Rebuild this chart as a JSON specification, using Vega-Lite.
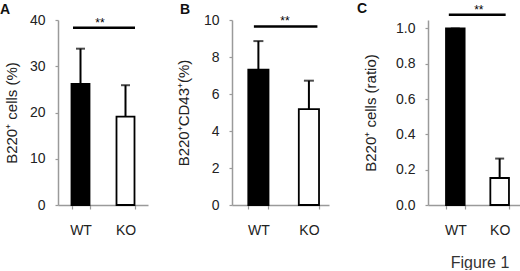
{
  "$schema": "https://vega.github.io/schema/vega-lite/v6.json",
  "padding": {"left": 0, "top": 1, "right": 0, "bottom": 0},
  "background": "white",
  "spacing": 28,
  "config": {
    "view": {"stroke": null},
    "font": "Liberation Sans",
    "axis": {
      "grid": false,
      "domainColor": "#9a9a9a",
      "domainWidth": 1.5,
      "tickColor": "#9a9a9a",
      "tickWidth": 1.2,
      "tickSize": 3,
      "labelFont": "Liberation Sans",
      "labelFontSize": 14,
      "labelColor": "#222222",
      "titleFont": "Liberation Sans",
      "titleFontSize": 15,
      "titleFontWeight": "normal",
      "titleColor": "#222222"
    },
    "axisY": {"labelPadding": 10, "titlePadding": 10},
    "axisX": {"labelPadding": 14, "labelAngle": 0, "tickBand": "extent", "tickSize": 4},
    "title": {"font": "Liberation Sans", "fontSize": 14, "fontWeight": "bold", "color": "#111111", "anchor": "start", "frame": "group", "baseline": "alphabetic"}
  },
  "hconcat": [
    {
      "width": 90,
      "height": 185,
      "title": {"text": "A", "dx": -58, "dy": 10, "offset": 6},
      "data": {"values": [
        {"group": "WT", "mean": 26.2, "upper": 33.8},
        {"group": "KO", "mean": 19.1, "upper": 25.9}
      ]},
      "encoding": {
        "x": {"field": "group", "type": "nominal", "title": null,
              "scale": {"domain": ["WT", "KO"], "paddingInner": 0.6, "paddingOuter": 0.3, "align": 0.5}},
        "y": {"type": "quantitative", "scale": {"domain": [0, 40], "nice": false},
              "axis": {"values": [0, 10, 20, 30, 40], "title": "B220⁺ cells (%)"}}
      },
      "layer": [
        {"mark": {"type": "bar", "stroke": "black", "strokeWidth": 1.8},
         "encoding": {"y": {"field": "mean"},
                      "fill": {"field": "group", "type": "nominal", "scale": {"domain": ["WT", "KO"], "range": ["black", "white"]}, "legend": null}}},
        {"mark": {"type": "rule", "color": "black", "strokeWidth": 2},
         "encoding": {"y": {"field": "mean"}, "y2": {"field": "upper"}}},
        {"mark": {"type": "tick", "color": "black", "thickness": 2, "size": 9, "orient": "horizontal"},
         "encoding": {"y": {"field": "upper"}}},
        {"data": {"values": [{"group": "WT", "to": "KO", "y": 38.3}]},
         "mark": {"type": "rule", "color": "black", "strokeWidth": 2.5, "xOffset": -7.5, "x2Offset": 9.5},
         "encoding": {"x2": {"field": "to"}, "y": {"field": "y"}}},
        {"data": {"values": [{"group": "WT", "y": 38.3, "label": "**"}]},
         "mark": {"type": "text", "color": "black", "fontSize": 12, "baseline": "alphabetic", "dy": -1, "xOffset": 19.5},
         "encoding": {"y": {"field": "y"}, "text": {"field": "label"}}}
      ]
    },
    {
      "width": 97,
      "height": 185,
      "title": {"text": "B", "dx": -52, "dy": 10, "offset": 6},
      "data": {"values": [
        {"group": "WT", "mean": 7.32, "upper": 8.86},
        {"group": "KO", "mean": 5.18, "upper": 6.72}
      ]},
      "encoding": {
        "x": {"field": "group", "type": "nominal", "title": null,
              "scale": {"domain": ["WT", "KO"], "paddingInner": 0.6, "paddingOuter": 0.26, "align": 0.62}},
        "y": {"type": "quantitative", "scale": {"domain": [0, 10], "nice": false},
              "axis": {"values": [0, 2, 4, 6, 8, 10], "title": "B220⁺CD43⁺(%)", "titlePadding": 12}}
      },
      "layer": [
        {"mark": {"type": "bar", "stroke": "black", "strokeWidth": 1.8},
         "encoding": {"y": {"field": "mean"},
                      "fill": {"field": "group", "type": "nominal", "scale": {"domain": ["WT", "KO"], "range": ["black", "white"]}, "legend": null}}},
        {"mark": {"type": "rule", "color": "black", "strokeWidth": 2},
         "encoding": {"y": {"field": "mean"}, "y2": {"field": "upper"}}},
        {"mark": {"type": "tick", "color": "black", "thickness": 2, "size": 10, "orient": "horizontal"},
         "encoding": {"y": {"field": "upper"}}},
        {"data": {"values": [{"group": "WT", "to": "KO", "y": 9.65}]},
         "mark": {"type": "rule", "color": "black", "strokeWidth": 2.5, "xOffset": -4.5, "x2Offset": 8.5},
         "encoding": {"x2": {"field": "to"}, "y": {"field": "y"}}},
        {"data": {"values": [{"group": "WT", "y": 9.65, "label": "**"}]},
         "mark": {"type": "text", "color": "black", "fontSize": 12, "baseline": "alphabetic", "dy": -1, "xOffset": 26.5},
         "encoding": {"y": {"field": "y"}, "text": {"field": "label"}}}
      ]
    },
    {
      "width": 94,
      "height": 185,
      "title": {"text": "C", "dx": -71, "dy": 18, "offset": 6},
      "data": {"values": [
        {"group": "WT", "mean": 1.0, "upper": 1.0},
        {"group": "KO", "mean": 0.153, "upper": 0.263}
      ]},
      "encoding": {
        "x": {"field": "group", "type": "nominal",
              "scale": {"domain": ["WT", "KO"], "paddingInner": 0.58, "paddingOuter": 0.35, "align": 0.58},
              "axis": {"title": "Figure 1", "titleX": 51.5, "titleY": 62, "titleBaseline": "alphabetic", "titleFontSize": 16, "titleColor": "#333333"}},
        "y": {"type": "quantitative", "scale": {"domain": [0, 1.048], "nice": false},
              "axis": {"values": [0, 0.2, 0.4, 0.6, 0.8, 1.0], "format": ".1f", "title": "B220⁺ cells (ratio)", "titlePadding": 17}}
      },
      "layer": [
        {"mark": {"type": "bar", "stroke": "black", "strokeWidth": 1.8},
         "encoding": {"y": {"field": "mean"},
                      "fill": {"field": "group", "type": "nominal", "scale": {"domain": ["WT", "KO"], "range": ["black", "white"]}, "legend": null}}},
        {"mark": {"type": "rule", "color": "black", "strokeWidth": 2},
         "encoding": {"y": {"field": "mean"}, "y2": {"field": "upper"}}},
        {"mark": {"type": "tick", "color": "black", "thickness": 2, "size": 9, "orient": "horizontal"},
         "encoding": {"y": {"field": "upper"}}},
        {"data": {"values": [{"group": "WT", "to": "KO", "y": 1.078}]},
         "mark": {"type": "rule", "color": "black", "strokeWidth": 2.5, "xOffset": -6.5, "x2Offset": 6},
         "encoding": {"x2": {"field": "to"}, "y": {"field": "y"}}},
        {"data": {"values": [{"group": "WT", "y": 1.078, "label": "**"}]},
         "mark": {"type": "text", "color": "black", "fontSize": 12, "baseline": "alphabetic", "dy": -1, "xOffset": 23.5},
         "encoding": {"y": {"field": "y"}, "text": {"field": "label"}}}
      ]
    }
  ]
}
